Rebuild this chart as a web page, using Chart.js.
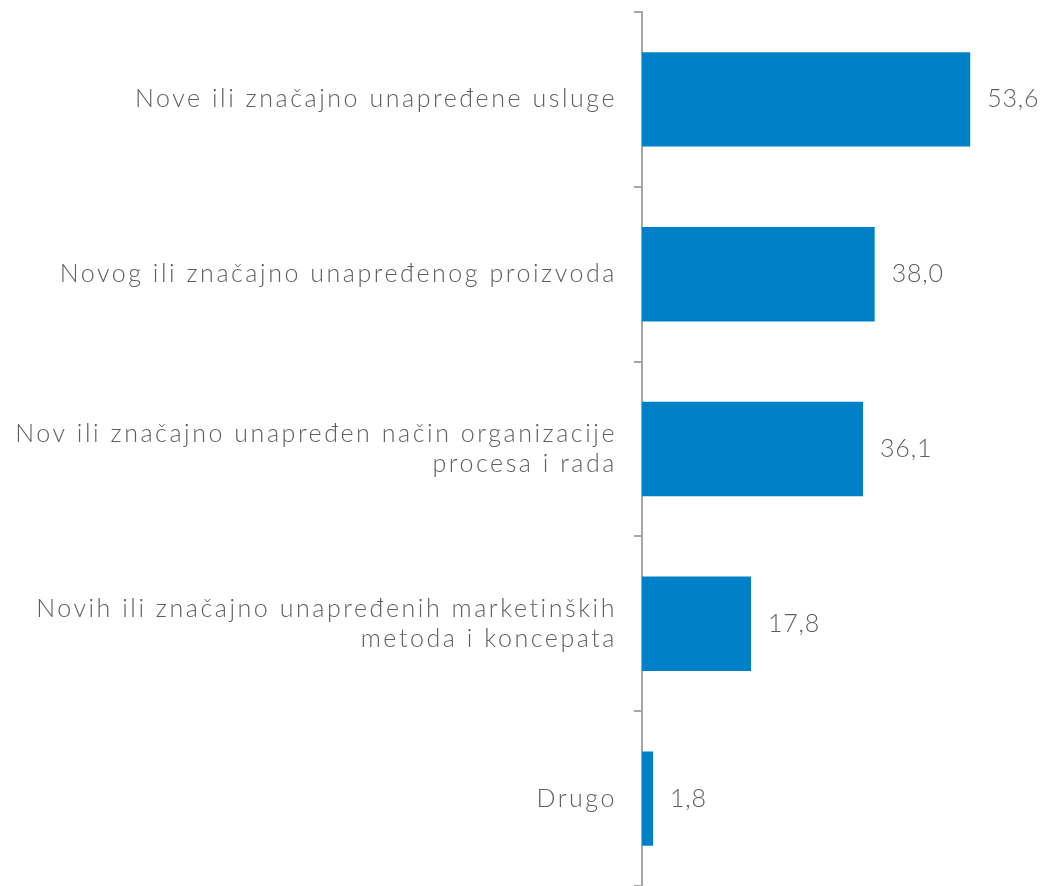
<!DOCTYPE html>
<html>
<head>
<meta charset="utf-8">
<script src="https://cdn.jsdelivr.net/npm/chart.js@4"></script>
<style>
  html, body { margin: 0; padding: 0; background: #fff; }
  #wrap { width: 1040px; height: 886px; }
</style>
</head>
<body>
<div id="wrap"><canvas id="chart"></canvas></div>
<script>
const categories = [
    'Nove ili značajno unapređene usluge',
    'Novog ili značajno unapređenog proizvoda',
    ['Nov ili značajno unapređen način organizacije', 'procesa i rada'],
    ['Novih ili značajno unapređenih marketinških', 'metoda i koncepata'],
    'Drugo'
];
const values = [53.6, 38.0, 36.1, 17.8, 1.8];

const FONT = 'Lato, "DejaVu Sans", sans-serif';
const TEXT = '#5f5f5f';

// wider letter spacing for the category labels (closer to the original typeface)
const spacing = {
    id: 'spacing',
    beforeDraw(chart) { chart.ctx.letterSpacing = '2.55px'; },
    afterDraw(chart) { chart.ctx.letterSpacing = '0px'; }
};

// value labels to the right of each bar
const valueLabels = {
    id: 'valueLabels',
    afterDatasetsDraw(chart) {
        const ctx = chart.ctx;
        const meta = chart.getDatasetMeta(0);
        ctx.save();
        ctx.letterSpacing = '0.8px';
        ctx.font = '300 25px ' + FONT;
        ctx.fillStyle = TEXT;
        ctx.textAlign = 'left';
        ctx.textBaseline = 'middle';
        meta.data.forEach((bar, i) => {
            const txt = values[i].toFixed(1).replace('.', ',');
            ctx.fillText(txt, bar.x + 17, bar.y);
        });
        ctx.restore();
    }
};

new Chart(document.getElementById('chart'), {
    type: 'bar',
    data: {
        labels: categories,
        datasets: [{
            data: values,
            backgroundColor: '#0080C6',
            borderWidth: 0,
            categoryPercentage: 1,
            barPercentage: 0.54
        }]
    },
    options: {
        indexAxis: 'y',
        responsive: true,
        maintainAspectRatio: false,
        animation: false,
        layout: { padding: { top: 12, right: 0, bottom: 0, left: 0 } },
        plugins: {
            legend: { display: false },
            tooltip: { enabled: false }
        },
        scales: {
            x: {
                display: false,
                min: 0,
                max: 65
            },
            y: {
                afterFit(scale) {
                    scale.width = 642;
                    scale.paddingTop = 0;
                    scale.paddingBottom = 0;
                },
                grid: {
                    drawOnChartArea: false,
                    drawTicks: true,
                    tickLength: 8,
                    color: '#A6A6A6',
                    lineWidth: 2
                },
                border: { color: '#A6A6A6', width: 2 },
                ticks: {
                    padding: 17,
                    color: TEXT,
                    font: { family: FONT, size: 25, weight: 300, lineHeight: 1.2 }
                }
            }
        }
    },
    plugins: [spacing, valueLabels]
});
</script>
</body>
</html>
